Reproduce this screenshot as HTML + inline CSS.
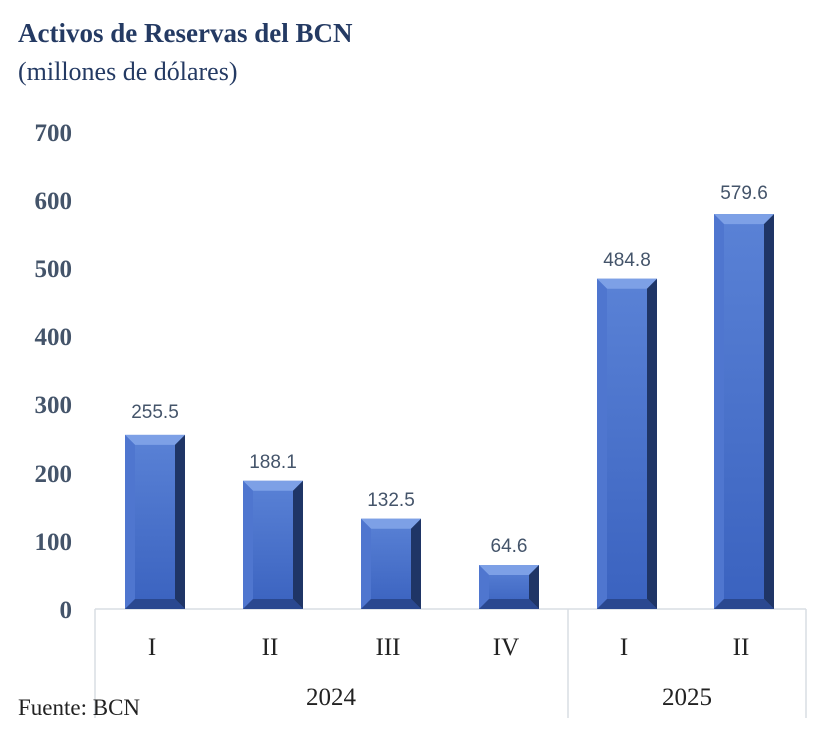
<!DOCTYPE html>
<html><head><meta charset="utf-8"><style>
body{margin:0;background:#fff;width:827px;height:736px;overflow:hidden}
</style></head><body>
<svg width="827" height="736" xmlns="http://www.w3.org/2000/svg">
<defs>
<linearGradient id="face" x1="0" y1="0" x2="0" y2="1">
<stop offset="0" stop-color="#5a82d6"/><stop offset="1" stop-color="#3a62bf"/></linearGradient>
</defs>
<text x="18" y="42" font-family="Liberation Serif" font-weight="bold" font-size="27" fill="#243a63">Activos de Reservas del BCN</text>
<text x="18" y="80" font-family="Liberation Serif" font-size="26" fill="#243a63">(millones de dólares)</text>
<g font-family="Liberation Serif" font-weight="bold" font-size="25" fill="#44546a" text-anchor="end">
<text x="72" y="141">700</text><text x="72" y="209">600</text><text x="72" y="277">500</text>
<text x="72" y="345">400</text><text x="72" y="413">300</text><text x="72" y="482">200</text>
<text x="72" y="550">100</text><text x="72" y="618">0</text>
</g>
<g stroke="#d9dde3" stroke-width="1.5" fill="none">
<line x1="95" y1="609" x2="806" y2="609"/>
<line x1="95" y1="609" x2="95" y2="718"/>
<line x1="568" y1="609" x2="568" y2="718"/>
<line x1="806" y1="609" x2="806" y2="718"/>
</g>

<g transform="translate(125,434.9)">
<rect width="60" height="174.1" fill="url(#face)"/>
<polygon points="0,0 60,0 50,10 10,10" fill="#7da0e6"/>
<polygon points="0,0 10,10 10,164.1 0,174.1" fill="#4f76cf"/>
<polygon points="60,0 50,10 50,164.1 60,174.1" fill="#1f3566"/>
<polygon points="0,174.1 10,164.1 50,164.1 60,174.1" fill="#2a4890"/>
</g>
<g transform="translate(243,480.8)">
<rect width="60" height="128.2" fill="url(#face)"/>
<polygon points="0,0 60,0 50,10 10,10" fill="#7da0e6"/>
<polygon points="0,0 10,10 10,118.2 0,128.2" fill="#4f76cf"/>
<polygon points="60,0 50,10 50,118.2 60,128.2" fill="#1f3566"/>
<polygon points="0,128.2 10,118.2 50,118.2 60,128.2" fill="#2a4890"/>
</g>
<g transform="translate(361,518.7)">
<rect width="60" height="90.3" fill="url(#face)"/>
<polygon points="0,0 60,0 50,10 10,10" fill="#7da0e6"/>
<polygon points="0,0 10,10 10,80.3 0,90.3" fill="#4f76cf"/>
<polygon points="60,0 50,10 50,80.3 60,90.3" fill="#1f3566"/>
<polygon points="0,90.3 10,80.3 50,80.3 60,90.3" fill="#2a4890"/>
</g>
<g transform="translate(479,565)">
<rect width="60" height="44" fill="url(#face)"/>
<polygon points="0,0 60,0 50,10 10,10" fill="#7da0e6"/>
<polygon points="0,0 10,10 10,34 0,44" fill="#4f76cf"/>
<polygon points="60,0 50,10 50,34 60,44" fill="#1f3566"/>
<polygon points="0,44 10,34 50,34 60,44" fill="#2a4890"/>
</g>
<g transform="translate(597,278.7)">
<rect width="60" height="330.3" fill="url(#face)"/>
<polygon points="0,0 60,0 50,10 10,10" fill="#7da0e6"/>
<polygon points="0,0 10,10 10,320.3 0,330.3" fill="#4f76cf"/>
<polygon points="60,0 50,10 50,320.3 60,330.3" fill="#1f3566"/>
<polygon points="0,330.3 10,320.3 50,320.3 60,330.3" fill="#2a4890"/>
</g>
<g transform="translate(714,214.1)">
<rect width="60" height="394.9" fill="url(#face)"/>
<polygon points="0,0 60,0 50,10 10,10" fill="#7da0e6"/>
<polygon points="0,0 10,10 10,384.9 0,394.9" fill="#4f76cf"/>
<polygon points="60,0 50,10 50,384.9 60,394.9" fill="#1f3566"/>
<polygon points="0,394.9 10,384.9 50,384.9 60,394.9" fill="#2a4890"/>
</g>

<g font-family="Liberation Sans" font-size="19" fill="#44546a" text-anchor="middle">
<text x="155" y="418">255.5</text><text x="273" y="468">188.1</text><text x="391" y="506">132.5</text>
<text x="509" y="552">64.6</text><text x="627" y="266">484.8</text><text x="744" y="199">579.6</text>
</g>
<g font-family="Liberation Serif" font-size="25" fill="#222" text-anchor="middle">
<text x="152" y="655">I</text><text x="270" y="655">II</text><text x="388" y="655">III</text>
<text x="506" y="655">IV</text><text x="624" y="655">I</text><text x="741" y="655">II</text>
<text x="331" y="705">2024</text><text x="687" y="705">2025</text>
</g>
<text x="18" y="715" font-family="Liberation Serif" font-size="23" fill="#222">Fuente: BCN</text>
</svg>
</body></html>
